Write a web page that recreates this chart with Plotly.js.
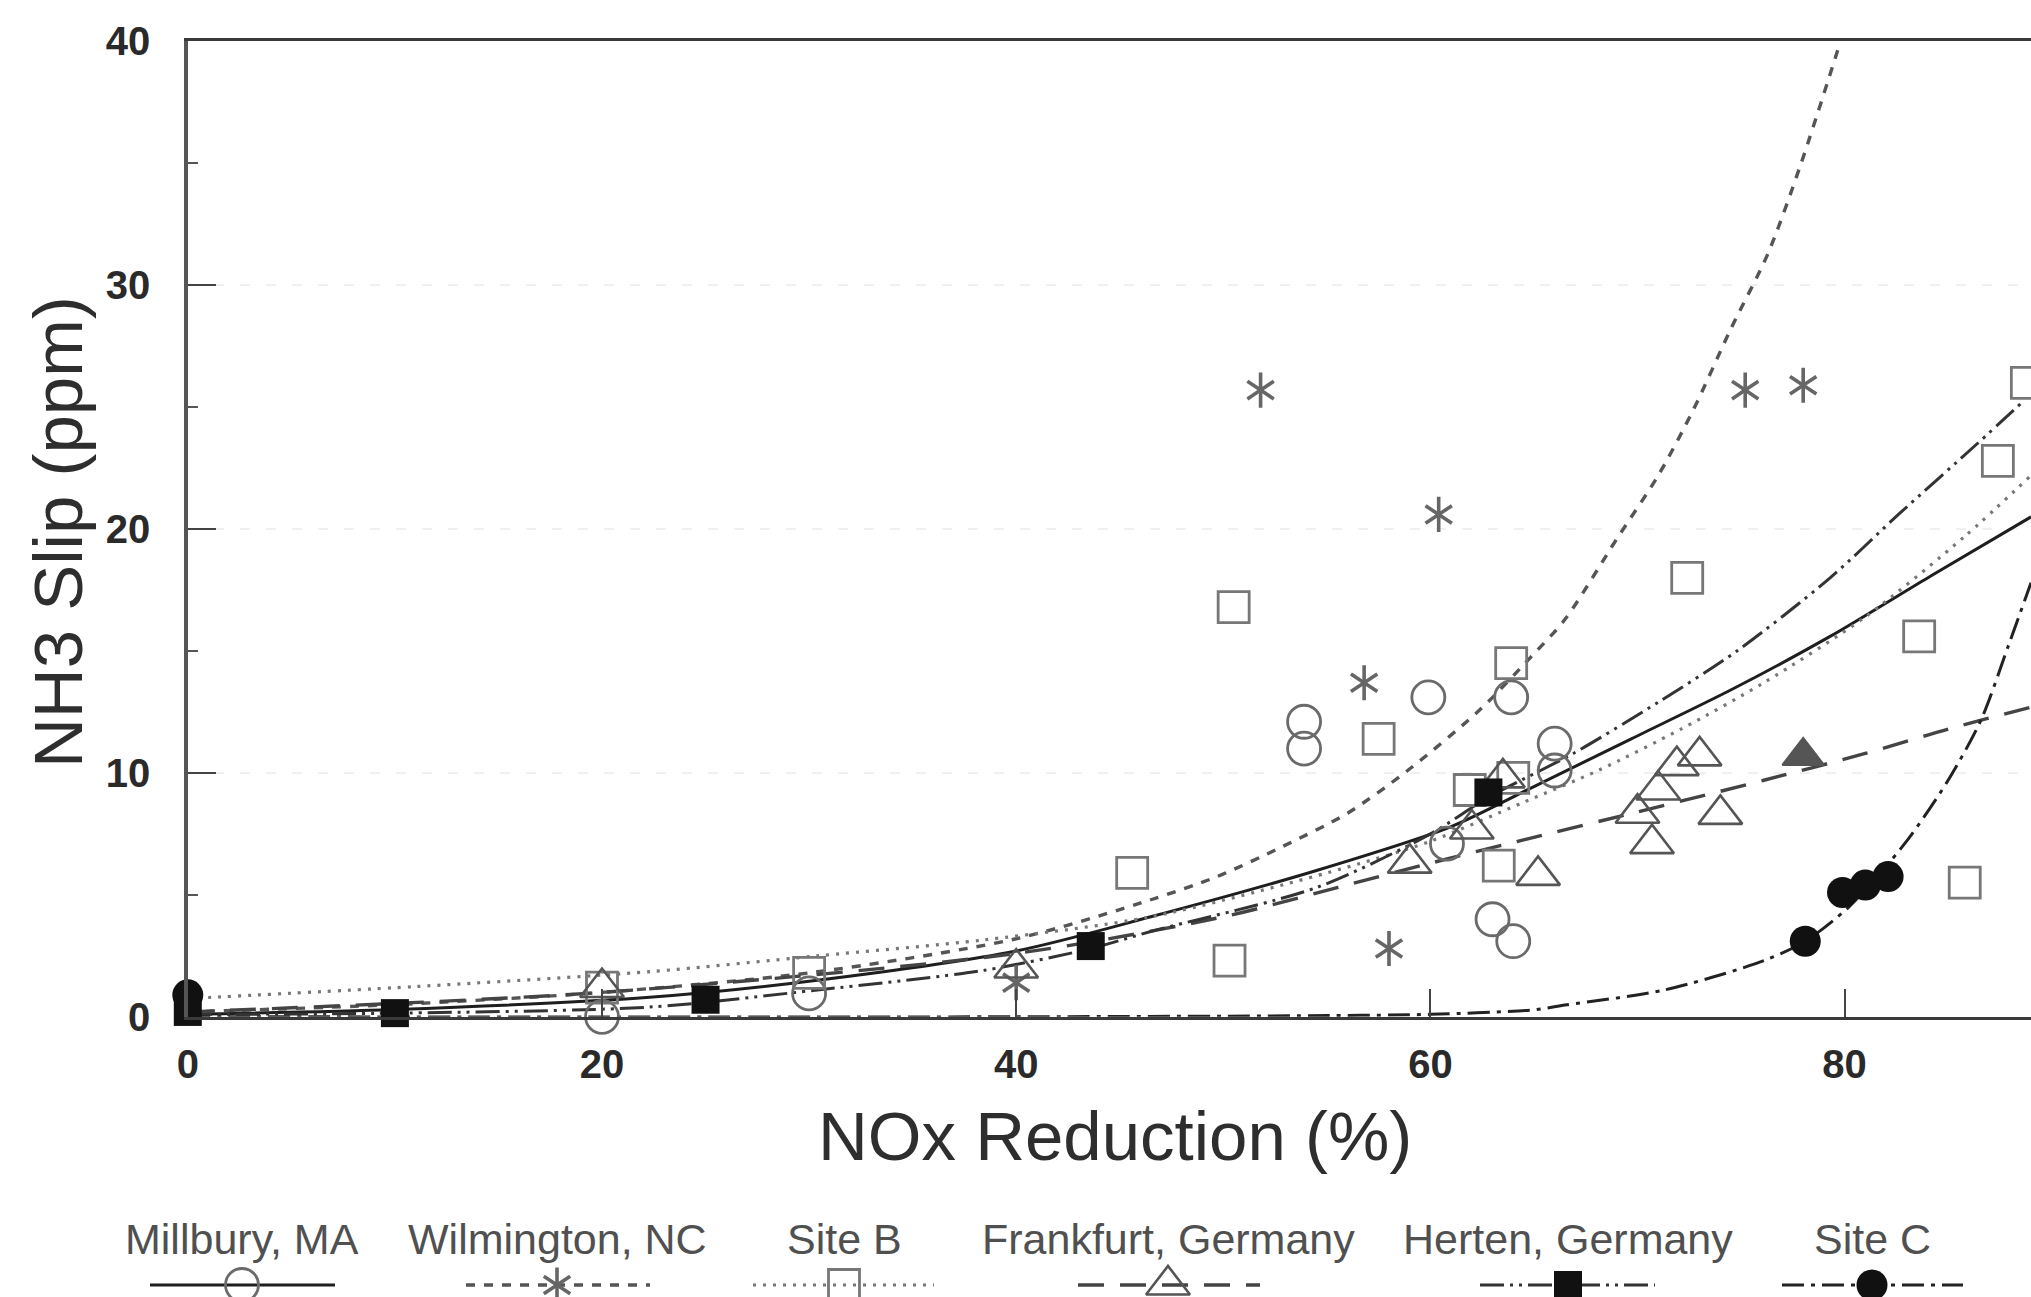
<!DOCTYPE html>
<html><head><meta charset="utf-8">
<script src="https://cdn.plot.ly/plotly-3.0.1.min.js"></script>
<style>html,body{margin:0;padding:0;background:#fff;} #chart{width:2031px;height:1297px;}</style>
</head><body><div id="chart"></div>
<script>
// ---------------- DATA ----------------
const seriesNames = ["Millbury, MA", "Wilmington, NC", "Site B", "Frankfurt, Germany", "Herten, Germany", "Site C"];
const xTickVals = [0, 20, 40, 60, 80];
const yTickVals = [0, 10, 20, 30, 40];
const xAxisTitle = "NOx Reduction (%)";
const yAxisTitle = "NH3 Slip (ppm)";

// measured points
const millburyX = [20, 30, 53.9, 53.9, 59.9, 60.8, 63.0, 64.0, 63.9, 66.0, 66.0];
const millburyY = [0.0, 0.96, 12.1, 11.0, 13.1, 7.1, 4.0, 3.1, 13.1, 11.2, 10.1];
const wilmingtonX = [40, 51.8, 56.8, 58.0, 60.4, 75.2, 78.0];
const wilmingtonY = [1.4, 25.7, 13.7, 2.8, 20.6, 25.7, 25.9];
const siteBX = [20, 30, 45.6, 50.3, 50.5, 57.5, 61.9, 63.3, 63.9, 64.0, 72.4, 83.6, 85.8, 87.4, 88.8];
const siteBY = [1.2, 1.8, 5.9, 2.3, 16.8, 11.4, 9.3, 6.2, 14.5, 9.8, 18.0, 15.6, 5.5, 22.8, 26.0];
const frankfurtX = [20, 40, 59.0, 62.0, 63.5, 65.2, 70.0, 70.7, 71.0, 71.9, 73.0, 74.0];
const frankfurtY = [1.2, 2.0, 6.3, 7.7, 9.8, 5.8, 8.35, 7.1, 9.3, 10.3, 10.7, 8.3];
const frankfurtFilledX = [78.0];
const frankfurtFilledY = [10.7];
const hertenX = [0, 10, 25.0, 43.6, 62.8];
const hertenY = [0.2, 0.15, 0.7, 2.9, 9.2];
const siteCX = [0, 78.1, 79.9, 81.0, 82.1];
const siteCY = [0.9, 3.1, 5.1, 5.4, 5.75];

// fitted curves
const millburyFitX = [0, 10, 22.3, 30.4, 40, 46.5, 54.5, 61, 64.9, 69.7, 74.5, 79.3, 84.2, 89];
const millburyFitY = [0.1, 0.3, 0.8, 1.5, 2.7, 4.1, 6.0, 7.8, 9.4, 11.4, 13.4, 15.6, 18.1, 20.5];
const wilmingtonFitX = [0, 10, 20, 30, 40, 46.5, 49.7, 52.9, 56.0, 58.9, 62.4, 64.9, 66.5, 69.0, 71.0, 72.7, 74.5, 76.3, 77.9, 79.8];
const wilmingtonFitY = [0.2, 0.5, 1.0, 1.8, 3.2, 4.8, 5.75, 7.0, 8.35, 10.1, 12.6, 14.8, 16.3, 19.6, 22.2, 24.9, 28.2, 31.3, 35.0, 40.0];
const siteBFitX = [0, 11, 22.3, 30.4, 38.4, 46.5, 55, 60, 64.5, 68.1, 72.1, 76.1, 81.0, 85.8, 89];
const siteBFitY = [0.75, 1.24, 1.85, 2.5, 3.15, 4.1, 5.9, 7.2, 8.8, 10.1, 11.8, 13.7, 16.4, 19.7, 22.2];
const frankfurtFitX = [0, 20, 40, 50, 55.5, 60, 64.7, 70, 76.1, 81, 85, 89];
const frankfurtFitY = [0.2, 1.0, 2.6, 4.1, 5.3, 6.3, 7.3, 8.4, 9.7, 10.8, 11.8, 12.7];
const hertenFitX = [0, 10, 22.3, 30.4, 38.4, 43.6, 46.5, 54.5, 60, 62.8, 66.9, 71.0, 74.8, 79.3, 82.6, 86.4, 88.7];
const hertenFitY = [0.1, 0.15, 0.4, 1.1, 1.9, 2.8, 3.5, 5.3, 7.5, 9.0, 10.8, 12.9, 15.0, 18.0, 20.6, 23.5, 25.3];
const siteCFitX = [0, 40, 55, 60, 64.9, 66.5, 71.3, 76.1, 78.1, 80.2, 82.9, 85.0, 86.6, 87.9, 89];
const siteCFitY = [0, 0, 0.05, 0.1, 0.28, 0.48, 1.1, 2.3, 3.1, 4.5, 7.1, 9.7, 12.2, 15.2, 17.8];

// ---------------- LAYOUT / STYLE ----------------
const W = 2031, H = 1297;
const plotLeft = 187.8, plotRight = 2031, plotTop = 41.4, plotBottom = 1016.8;
const xRange = [0, 89];
const FONT = "'Liberation Sans', Arial, Helvetica, sans-serif";
const NARROW = "'Liberation Sans Narrow', 'Liberation Sans', Arial, sans-serif";

const styles = [
  {line: {color: '#1e1e1e', width: 3, dash: 'solid'}, marker: {symbol: 'circle-open', size: 33, color: '#6a6a6a', line: {width: 2.8, color: '#6a6a6a'}}},
  {line: {color: '#555', width: 3.4, dash: '9px,9px'}, marker: {symbol: 'y-up-open', size: 22, color: '#666', line: {width: 3.6, color: '#666'}}},
  {line: {color: '#777', width: 3.2, dash: '3px,7px'}, marker: {symbol: 'square-open', size: 31, color: '#777', line: {width: 2.8, color: '#777'}}},
  {line: {color: '#444', width: 3.4, dash: '26px,16px'}, marker: {symbol: 'triangle-up-open', size: 38, color: '#555', line: {width: 2.6, color: '#555'}}},
  {line: {color: '#333', width: 3, dash: '24px,6px,3px,6px,3px,6px'}, marker: {symbol: 'square', size: 28, color: '#111', line: {width: 0}}},
  {line: {color: '#222', width: 3, dash: '22px,7px,4px,7px'}, marker: {symbol: 'circle', size: 31, color: '#111', line: {width: 0}}}
];

const fits = [
  [millburyFitX, millburyFitY], [wilmingtonFitX, wilmingtonFitY], [siteBFitX, siteBFitY],
  [frankfurtFitX, frankfurtFitY], [hertenFitX, hertenFitY], [siteCFitX, siteCFitY]
];
const pts = [
  [millburyX, millburyY], [wilmingtonX, wilmingtonY], [siteBX, siteBY],
  [frankfurtX, frankfurtY], [hertenX, hertenY], [siteCX, siteCY]
];

const traces = [];
fits.forEach((f, i) => {
  traces.push({type: 'scatter', mode: 'lines', x: f[0], y: f[1], name: seriesNames[i] + ' fit',
    line: Object.assign({shape: 'spline', smoothing: 0.8}, styles[i].line), showlegend: false, hoverinfo: 'skip'});
});
pts.forEach((p, i) => {
  traces.push({type: 'scatter', mode: 'markers', x: p[0], y: p[1], name: seriesNames[i],
    marker: styles[i].marker, cliponaxis: false, showlegend: false});
  if (i === 1) { // six-armed asterisk = y-up + y-down
    traces.push({type: 'scatter', mode: 'markers', x: p[0], y: p[1], name: seriesNames[i],
      marker: Object.assign({}, styles[i].marker, {symbol: 'y-down-open'}), cliponaxis: false, showlegend: false});
  }
});
traces.push({type: 'scatter', mode: 'markers', x: frankfurtFilledX, y: frankfurtFilledY, name: seriesNames[3],
  marker: {symbol: 'triangle-up', size: 36, color: '#555', line: {width: 2, color: '#555'}}, cliponaxis: false, showlegend: false});

// custom legend below the chart (text above key), drawn on a pixel-coordinate overlay axis pair
const legendSlots = [
  {cx: 242, x0: 150, x1: 335},
  {cx: 557, x0: 466, x1: 650},
  {cx: 844, x0: 753, x1: 934},
  {cx: 1168, x0: 1078, x1: 1260},
  {cx: 1568, x0: 1480, x1: 1655},
  {cx: 1872, x0: 1782, x1: 1963}
];
const legendTextY = 1239, legendKeyY = 1285;
const annotations = [];
legendSlots.forEach((s, i) => {
  traces.push({type: 'scatter', mode: 'lines', xaxis: 'x2', yaxis: 'y2', x: [s.x0, s.x1], y: [legendKeyY, legendKeyY],
    line: Object.assign({}, styles[i].line), showlegend: false, hoverinfo: 'skip', cliponaxis: false});
  traces.push({type: 'scatter', mode: 'markers', xaxis: 'x2', yaxis: 'y2', x: [s.cx], y: [legendKeyY],
    marker: styles[i].marker, showlegend: false, hoverinfo: 'skip', cliponaxis: false});
  if (i === 1) {
    traces.push({type: 'scatter', mode: 'markers', xaxis: 'x2', yaxis: 'y2', x: [s.cx], y: [legendKeyY],
      marker: Object.assign({}, styles[i].marker, {symbol: 'y-down-open'}), showlegend: false, hoverinfo: 'skip', cliponaxis: false});
  }
  annotations.push({xref: 'x2', yref: 'y2', x: s.cx, y: legendTextY, text: seriesNames[i], showarrow: false,
    xanchor: 'center', yanchor: 'middle', font: {family: FONT, size: 43, color: '#505050'}});
});

// axis titles
annotations.push({xref: 'x2', yref: 'y2', x: 1115, y: 1136, text: xAxisTitle, showarrow: false,
  xanchor: 'center', yanchor: 'middle', font: {family: FONT, size: 69, color: '#2e2e2e'}});
annotations.push({xref: 'x2', yref: 'y2', x: 58, y: 532, text: yAxisTitle, showarrow: false, textangle: -90,
  xanchor: 'center', yanchor: 'middle', font: {family: FONT, size: 69, color: '#2e2e2e'}});

const layout = {
  width: W, height: H,
  margin: {l: 0, r: 0, t: 0, b: 0, pad: 0},
  paper_bgcolor: '#fff', plot_bgcolor: 'rgba(0,0,0,0)',
  showlegend: false,
  xaxis: {
    domain: [plotLeft / W, plotRight / W], range: xRange, autorange: false,
    tickmode: 'array', tickvals: xTickVals, ticktext: xTickVals.map(String),
    ticks: 'inside', ticklen: 28, tickwidth: 2, tickcolor: '#444',
    showline: true, linecolor: '#3a3a3a', linewidth: 3.5, mirror: true,
    showgrid: false, zeroline: false,
    tickfont: {family: NARROW, size: 40, color: '#2a2a2a', weight: 'bold'}, ticklabelstandoff: 10
  },
  yaxis: {
    domain: [(H - plotBottom) / H, (H - plotTop) / H], range: [0, 40], autorange: false,
    tickmode: 'array', tickvals: yTickVals, ticktext: yTickVals.map(String),
    ticks: 'inside', ticklen: 28, tickwidth: 2, tickcolor: '#444',
    minor: {dtick: 5, tick0: 0, ticks: 'inside', ticklen: 10, tickwidth: 2, tickcolor: '#555', showgrid: false},
    showline: true, linecolor: '#555', linewidth: 3.5, mirror: false,
    showgrid: true, gridcolor: '#f0f0f0', gridwidth: 2, griddash: '10px,16px', zeroline: false,
    tickfont: {family: NARROW, size: 40, color: '#2a2a2a', weight: 'bold'}, ticklabelstandoff: 26
  },
  xaxis2: {domain: [0, 1], range: [0, W], autorange: false, visible: false, fixedrange: true, anchor: 'y2'},
  yaxis2: {domain: [0, 1], range: [H, 0], autorange: false, visible: false, fixedrange: true, anchor: 'x2'},
  annotations: annotations
};

Plotly.newPlot('chart', traces, layout, {displayModeBar: false, staticPlot: true});
</script></body></html>
